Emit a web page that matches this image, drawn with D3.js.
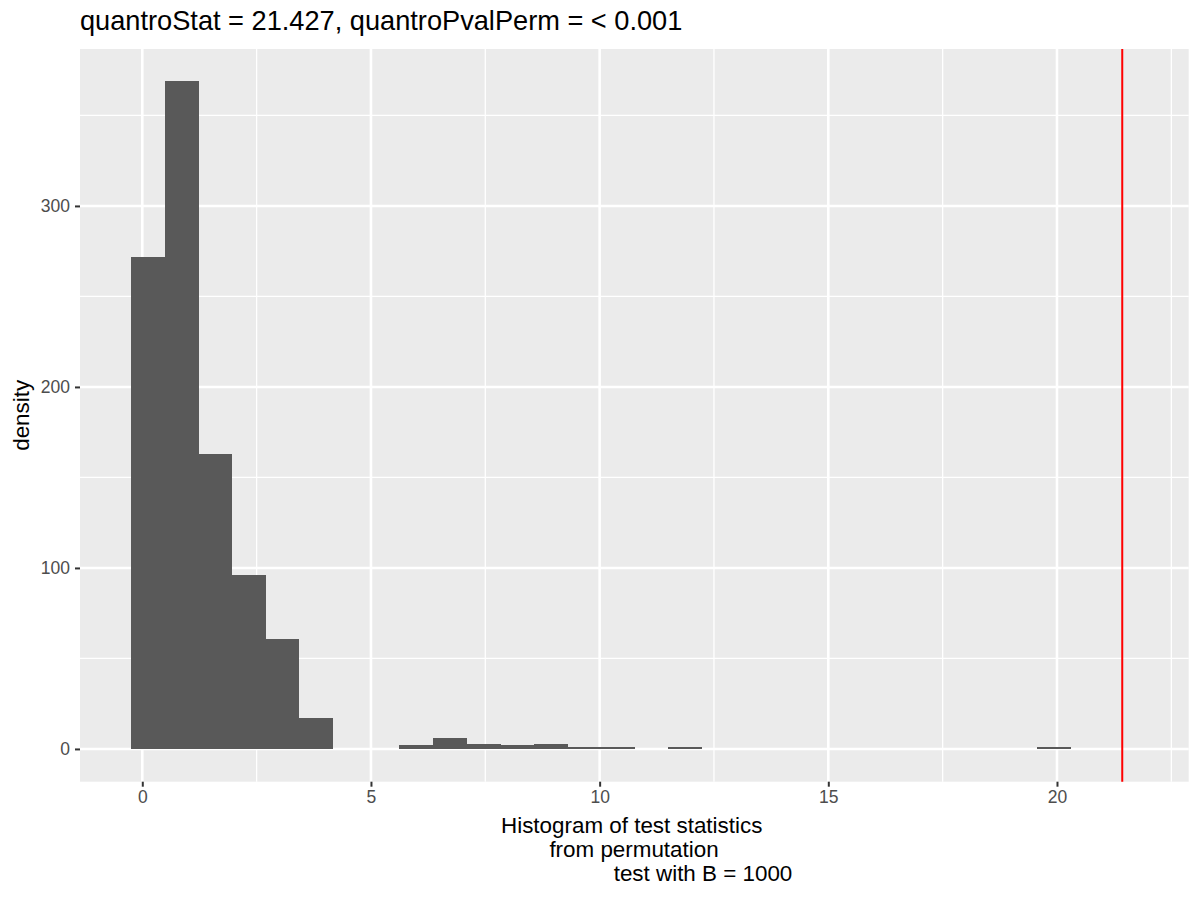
<!DOCTYPE html>
<html>
<head>
<meta charset="utf-8">
<script src="https://cdn.jsdelivr.net/npm/d3@7"></script>
<style>
  html, body { margin: 0; padding: 0; background: #ffffff; }
  svg { display: block; font-family: "Liberation Sans", Arial, sans-serif; }
</style>
</head>
<body>
<svg id="chart" width="1200" height="900"></svg>
<script>
// ---- data ----
const binLefts = [-0.247, 0.487, 1.221, 1.954, 2.688, 3.422, 4.156, 4.890, 5.623, 6.357,
                  7.091, 7.825, 8.559, 9.292, 10.026, 10.760, 11.494, 12.228, 12.961, 13.695,
                  14.429, 15.163, 15.897, 16.630, 17.364, 18.098, 18.832, 19.566];
const binWidth = 0.734;
const densities = [272, 369, 163, 96, 61, 17, 0, 0, 2, 6,
                   3, 2, 3, 1, 1, 0, 1, 0, 0, 0,
                   0, 0, 0, 0, 0, 0, 0, 1];
const quantroStat = 21.427;
const xTicks = [0, 5, 10, 15, 20];
const xMinor = [2.5, 7.5, 12.5, 17.5, 22.5];
const yTicks = [0, 100, 200, 300];
const yMinor = [50, 150, 250, 350];
const titleText = "quantroStat = 21.427, quantroPvalPerm = < 0.001";
const xTitleLines = ["Histogram of test statistics", "from permutation", "test with B = 1000"];
const yTitle = "density";

// ---- layout ----
const svg = d3.select("#chart");
const P = { left: 80, right: 1188.7, top: 49, bottom: 781.7 };
const x = d3.scaleLinear().domain([-1.362, 22.88]).range([P.left, P.right]);
const y = d3.scaleLinear().domain([-18.1, 386.7]).range([P.bottom, P.top]);

// panel background
svg.append("rect")
  .attr("x", P.left).attr("y", P.top)
  .attr("width", P.right - P.left).attr("height", P.bottom - P.top)
  .attr("fill", "#EBEBEB");

const grid = svg.append("g");
// minor grid
grid.selectAll(".xm").data(xMinor).join("line")
  .attr("x1", d => x(d)).attr("x2", d => x(d))
  .attr("y1", P.top).attr("y2", P.bottom)
  .attr("stroke", "#ffffff").attr("stroke-width", 1.3);
grid.selectAll(".ym").data(yMinor).join("line")
  .attr("y1", d => y(d)).attr("y2", d => y(d))
  .attr("x1", P.left).attr("x2", P.right)
  .attr("stroke", "#ffffff").attr("stroke-width", 1.3);
// major grid
grid.selectAll(".xM").data(xTicks).join("line")
  .attr("x1", d => x(d)).attr("x2", d => x(d))
  .attr("y1", P.top).attr("y2", P.bottom)
  .attr("stroke", "#ffffff").attr("stroke-width", 2.6);
grid.selectAll(".yM").data(yTicks).join("line")
  .attr("y1", d => y(d)).attr("y2", d => y(d))
  .attr("x1", P.left).attr("x2", P.right)
  .attr("stroke", "#ffffff").attr("stroke-width", 2.6);

// bars
svg.append("g").attr("shape-rendering", "crispEdges")
  .selectAll("rect").data(densities).join("rect")
  .attr("x", (d, i) => x(binLefts[i]))
  .attr("width", (d, i) => x(binLefts[i] + binWidth) - x(binLefts[i]) + 0.5)
  .attr("y", d => y(d))
  .attr("height", d => y(0) - y(d))
  .attr("fill", "#595959");

// vline
svg.append("line")
  .attr("x1", x(quantroStat)).attr("x2", x(quantroStat))
  .attr("y1", P.top).attr("y2", P.bottom)
  .attr("stroke", "#FF0000").attr("stroke-width", 2);

// axes
const xAxis = d3.axisBottom(x).tickValues(xTicks).tickSize(5).tickPadding(4).tickFormat(d3.format("d"));
const gx = svg.append("g").attr("transform", `translate(0,${P.bottom})`).call(xAxis);
gx.select(".domain").remove();
gx.selectAll(".tick line").attr("stroke", "#333333").attr("stroke-width", 2);
gx.selectAll(".tick text").attr("fill", "#4D4D4D").attr("font-size", "17.5px")
  .attr("font-family", "Liberation Sans, Arial, sans-serif");

const yAxis = d3.axisLeft(y).tickValues(yTicks).tickSize(5).tickPadding(5).tickFormat(d3.format("d"));
const gy = svg.append("g").attr("transform", `translate(${P.left},0)`).call(yAxis);
gy.select(".domain").remove();
gy.selectAll(".tick line").attr("stroke", "#333333").attr("stroke-width", 2);
gy.selectAll(".tick text").attr("fill", "#4D4D4D").attr("font-size", "17.5px")
  .attr("font-family", "Liberation Sans, Arial, sans-serif");

// title
svg.append("text")
  .attr("x", P.left).attr("y", 30)
  .attr("font-size", "27.2px").attr("fill", "#000000")
  .text(titleText);

// x title (multi-line, centers measured)
const xTitleCenters = [631.7, 634, 703];
const xTitleBaselines = [832.7, 856.7, 880.7];
svg.append("g").selectAll("text").data(xTitleLines).join("text")
  .attr("x", (d, i) => xTitleCenters[i])
  .attr("y", (d, i) => xTitleBaselines[i])
  .attr("text-anchor", "middle")
  .attr("font-size", "22.4px").attr("fill", "#000000")
  .text(d => d);

// y title
svg.append("text")
  .attr("transform", `translate(29,${(P.top + P.bottom) / 2}) rotate(-90)`)
  .attr("text-anchor", "middle")
  .attr("font-size", "22.4px").attr("fill", "#000000")
  .text(yTitle);
</script>
</body>
</html>
